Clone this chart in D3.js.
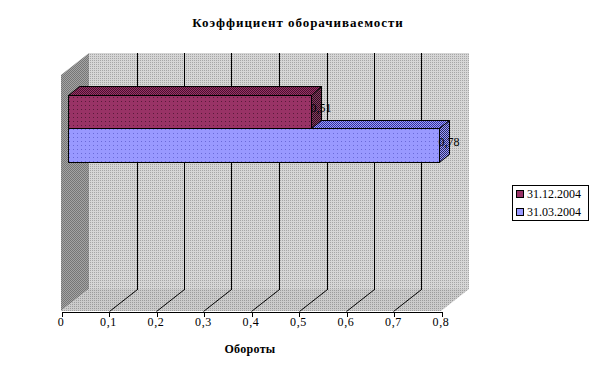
<!DOCTYPE html>
<html><head><meta charset="utf-8">
<script src="https://cdn.jsdelivr.net/npm/d3@7"></script>
<style>html,body{margin:0;padding:0;background:#fff}svg{display:block}
text{font-family:'Liberation Serif','Times New Roman',serif}</style>
</head><body>
<script>
// ---- data ----
const title = "Коэффициент оборачиваемости";
const axisTitle = "Обороты";
const categories = ["Коэффициент", ""];
const seriesNames = ["31.12.2004", "31.03.2004"];
const seriesValues = [[0.51, null], [0.78, null]];
const tickValues = [0, 0.1, 0.2, 0.3, 0.4, 0.5, 0.6, 0.7, 0.8];
const seriesColors = ["#993366", "#9999ff"];

const W = 596, H = 367;
const FONT = "'Liberation Serif', 'Times New Roman', serif";
const svg = d3.select("body").append("svg").attr("width", W).attr("height", H);
const defs = svg.append("defs");

function pat(id, size, bg, dots) {
  const p = defs.append("pattern").attr("id", id).attr("patternUnits", "userSpaceOnUse")
    .attr("width", size).attr("height", size);
  p.append("rect").attr("width", size).attr("height", size).attr("fill", bg);
  dots.forEach(d => p.append("rect").attr("x", d[0]).attr("y", d[1]).attr("width", 1).attr("height", 1).attr("fill", d[2]));
}
pat("pWall", 2, "#d6d6d6", [[0, 0, "#a6a6a6"]]);
pat("pFloor", 2, "#cbcbcb", [[0, 0, "#9c9c9c"]]);
pat("pLeft", 2, "#a4a4a4", [[0, 0, "#767676"], [1, 1, "#767676"]]);
pat("pF0", 4, "#993366", [[1, 1, "#5a1a3a"]]);
pat("pT0", 2, "#993366", [[0, 0, "#4a1030"], [1, 1, "#4a1030"]]);
pat("pS0", 2, "#8a3a60", [[0, 0, "#2a1020"], [1, 1, "#2a1020"]]);
pat("pF1", 4, "#9999ff", [[1, 1, "#6a6ad8"]]);
pat("pT1", 2, "#9999ff", [[0, 0, "#333399"], [1, 1, "#333399"]]);
pat("pS1", 2, "#9999ff", [[0, 0, "#2a2a60"], [1, 1, "#2a2a60"]]);

// ---- 3D geometry ----
const depthX = -28, depthY = 22;
const proj = (xb, yb, z) => [xb + depthX * z, yb + depthY * z];
const x = d3.scaleLinear().domain([0, 0.8]).range([89, 469]);
const xFront = d3.scaleLinear().domain([0, 0.8]).range([89 + depthX, 469 + depthX]);
const y = d3.scaleBand().domain(categories).range([53, 289]);
const barW = y.bandwidth() / (seriesNames.length + 1.5);
const yInner = d3.scaleBand().domain(seriesNames)
  .range([0.75 * barW, 0.75 * barW + barW * seriesNames.length]);
const zFront = 0.74, zBack = 0.36;
const snap = v => Math.round(v) + 0.5;

const yTop = y.range()[0], yBot = y.range()[1];
const x0 = x.range()[0], x1 = x.range()[1];
const line = d3.line();

// walls
svg.append("rect").attr("x", x0).attr("y", yTop).attr("width", x1 - x0).attr("height", yBot - yTop).attr("fill", "url(#pWall)");
svg.append("path").attr("d", line([[x0, yTop], [x0, yBot], proj(x0, yBot, 1), proj(x0, yTop, 1)]) + "Z").attr("fill", "url(#pLeft)");
svg.append("path").attr("d", line([[x0, yBot], [x1, yBot], proj(x1, yBot, 1), proj(x0, yBot, 1)]) + "Z").attr("fill", "url(#pFloor)");

// gridlines
tickValues.filter(t => t > 0 && t < 0.8).forEach(t => {
  const xb = snap(x(t));
  svg.append("path").attr("d", line([[xb, yTop], [xb, yBot + 0.5]]))
    .attr("fill", "none").attr("stroke", "#000").attr("stroke-width", 1).attr("shape-rendering", "crispEdges");
  svg.append("path").attr("d", line([[xb, yBot + 0.5], proj(xb, yBot + 0.5, 1)]))
    .attr("fill", "none").attr("stroke", "#000").attr("stroke-width", 1);
});

// bars (draw lower bars first)
const bars = [];
categories.forEach((c, ci) => seriesNames.forEach((s, si) => {
  const v = seriesValues[si][ci];
  if (v != null) bars.push({ c, s, si, v });
}));
bars.sort((a, b) => (y(b.c) + yInner(b.s)) - (y(a.c) + yInner(a.s)));
bars.forEach(b => {
  const yt = y(b.c) + yInner(b.s), yb = yt + yInner.bandwidth();
  const xl = x(0), xr = x(b.v);
  const g = svg.append("g").attr("stroke", "#000").attr("stroke-width", 1).attr("stroke-linejoin", "miter");
  const P = (xx, yy, z) => { const p = proj(xx, yy, z); return [snap(p[0]), snap(p[1])]; };
  g.append("path").attr("d", line([P(xl, yt, zFront), P(xr, yt, zFront), P(xr, yt, zBack), P(xl, yt, zBack)]) + "Z")
    .attr("fill", "url(#pT" + b.si + ")");
  g.append("path").attr("d", line([P(xr, yt, zFront), P(xr, yt, zBack), P(xr, yb, zBack), P(xr, yb, zFront)]) + "Z")
    .attr("fill", "url(#pS" + b.si + ")");
  const p1 = P(xl, yt, zFront), p2 = P(xr, yb, zFront);
  g.append("rect").attr("x", p1[0]).attr("y", p1[1]).attr("width", p2[0] - p1[0]).attr("height", p2[1] - p1[1])
    .attr("fill", "url(#pF" + b.si + ")");
  svg.append("text").attr("x", p2[0] - 1).attr("y", (p1[1] + p2[1]) / 2)
    .attr("font-family", FONT).attr("font-size", 12)
    .attr("fill", "#000").text(d3.format(".2f")(b.v).replace(".", ","));
});

// front axis
const fmt = v => v === 0 ? "0" : d3.format(".1f")(v).replace(".", ",");
const axisG = svg.append("g").attr("transform", `translate(0.5,${Math.round(yBot + depthY) + 0.5})`)
  .call(d3.axisBottom(xFront).tickValues(tickValues).tickFormat(fmt).tickSize(5).tickSizeOuter(0));
axisG.select(".domain").attr("stroke", "#000").attr("shape-rendering", "crispEdges");
axisG.selectAll(".tick line").attr("stroke", "#000").attr("shape-rendering", "crispEdges");
axisG.selectAll(".tick text").attr("font-family", FONT)
  .attr("font-size", 12).attr("fill", "#000").attr("dy", "0.55em").attr("dx", -1)
  .attr("letter-spacing", 0.6);

// titles
svg.append("text").attr("x", 298).attr("y", 27).attr("text-anchor", "middle")
  .attr("font-family", FONT).attr("font-weight", "bold").attr("font-size", 13)
  .attr("letter-spacing", 0.95)
  .text(title);
svg.append("text").attr("x", 250).attr("y", 353).attr("text-anchor", "middle")
  .attr("font-family", FONT).attr("font-weight", "bold").attr("font-size", 12)
  .attr("letter-spacing", 0.3)
  .text(axisTitle);

// legend
const lg = svg.append("g");
lg.append("rect").attr("x", 512.5).attr("y", 185.5).attr("width", 76).attr("height", 35)
  .attr("fill", "#fff").attr("stroke", "#000");
seriesNames.forEach((s, i) => {
  lg.append("rect").attr("x", 516.5).attr("y", 190.5 + i * 18).attr("width", 7).attr("height", 7)
    .attr("fill", seriesColors[i]).attr("stroke", "#000");
  lg.append("text").attr("x", 527).attr("y", 198 + i * 18)
    .attr("font-family", FONT).attr("font-size", 12).attr("fill", "#000").text(s);
});
</script>
</body></html>
